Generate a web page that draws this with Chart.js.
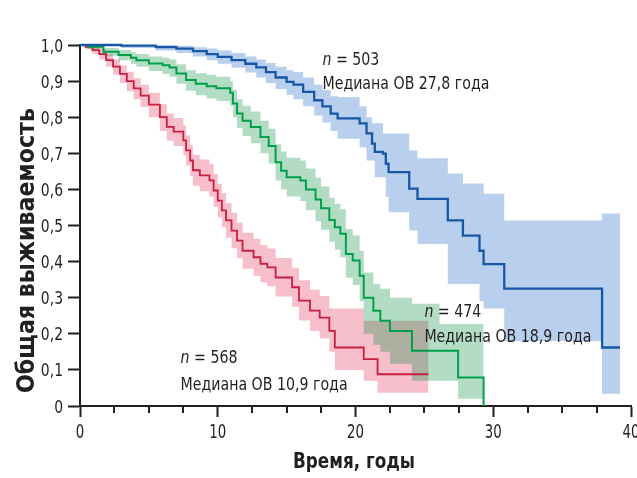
<!DOCTYPE html>
<html><head><meta charset="utf-8">
<script src="https://cdn.jsdelivr.net/npm/chart.js@4.4.1/dist/chart.umd.min.js"></script>
<style>html,body{margin:0;padding:0;background:#fff;}#wrap{width:637px;height:478px;}</style>
</head><body><div id="wrap"><canvas id="c" width="637" height="478"></canvas></div>
<script>
// ---- data ----
const blueTime = [0,3,5.5,7,8.2,9.2,10,11,12,12.8,13.5,14.2,15,15.5,16.2,17,17.6,18.2,18.7,20.3,20.8,21.2,21.4,22,22.2,22.4,23.9,24.5,26.7,27.8,29,29.3,30.8,37.9,39.2];
const blueSurv = [1,0.998,0.994,0.99,0.983,0.975,0.967,0.958,0.948,0.938,0.925,0.91,0.898,0.89,0.87,0.847,0.83,0.81,0.797,0.783,0.755,0.727,0.704,0.699,0.671,0.648,0.602,0.574,0.514,0.472,0.43,0.393,0.325,0.162,0.162];
const blueLow  = [1,0.992,0.985,0.978,0.968,0.958,0.948,0.937,0.924,0.91,0.895,0.878,0.862,0.85,0.83,0.805,0.785,0.762,0.74,0.717,0.68,0.68,0.634,0.634,0.579,0.537,0.486,0.449,0.338,0.338,0.29,0.27,0.18,0.034,0.034];
const blueHigh = [1,1,1,0.998,0.994,0.99,0.985,0.978,0.968,0.96,0.95,0.94,0.93,0.925,0.91,0.89,0.875,0.858,0.856,0.83,0.8,0.783,0.783,0.755,0.755,0.755,0.708,0.686,0.644,0.616,0.616,0.588,0.514,0.533,0.533];

const greenTime = [0,0.6,1.7,2.8,3.7,4.1,5,6,6.5,7,7.7,8.4,9.2,9.9,10.9,11.1,11.4,11.8,12.4,13.1,13.7,14.2,14.6,15,16,16.4,17.1,17.5,18.1,18.5,18.9,19.3,19.8,20.3,20.6,21.3,21.8,22.5,24.1,26.1,27.45,29.3];
const greenSurv = [1,0.995,0.981,0.972,0.965,0.958,0.949,0.944,0.938,0.921,0.903,0.893,0.886,0.88,0.868,0.838,0.81,0.79,0.773,0.745,0.72,0.675,0.652,0.634,0.625,0.6,0.572,0.548,0.515,0.495,0.477,0.421,0.403,0.361,0.3,0.264,0.236,0.208,0.153,0.153,0.079,0];
const greenLow  = [1,0.988,0.97,0.958,0.948,0.94,0.928,0.92,0.912,0.893,0.873,0.861,0.852,0.845,0.832,0.8,0.77,0.748,0.728,0.7,0.672,0.625,0.6,0.58,0.568,0.542,0.512,0.488,0.455,0.433,0.412,0.355,0.335,0.29,0.2,0.17,0.15,0.117,0.07,0.07,0.02,0.02];
const greenHigh = [1,1,0.992,0.986,0.98,0.975,0.968,0.965,0.96,0.947,0.93,0.922,0.917,0.912,0.9,0.876,0.85,0.832,0.816,0.79,0.768,0.725,0.705,0.688,0.68,0.658,0.632,0.608,0.577,0.56,0.545,0.49,0.472,0.43,0.37,0.338,0.325,0.3,0.283,0.227,0.227,0.227];

const redTime = [0,0.4,0.9,1.4,1.9,2.4,2.9,3.4,3.9,4.4,5,5.8,6.3,6.8,7.5,7.7,8,8.2,8.7,9.4,9.7,10,10.3,10.6,11,11.4,11.8,12.6,13.1,13.6,14.2,15.4,15.9,16.7,17.4,18.1,18.5,20.6,21.6,25.3];
const redSurv = [1,0.995,0.986,0.975,0.958,0.94,0.92,0.9,0.88,0.86,0.835,0.8,0.773,0.76,0.736,0.708,0.68,0.653,0.639,0.625,0.597,0.569,0.542,0.514,0.486,0.458,0.43,0.412,0.394,0.384,0.356,0.329,0.292,0.264,0.245,0.208,0.162,0.13,0.088,0.088];
const redLow  = [1,0.988,0.975,0.96,0.94,0.918,0.895,0.872,0.85,0.828,0.8,0.762,0.735,0.72,0.695,0.666,0.637,0.61,0.595,0.58,0.551,0.522,0.495,0.466,0.437,0.409,0.38,0.361,0.343,0.332,0.303,0.275,0.237,0.208,0.188,0.15,0.1,0.07,0.037,0.037];
const redHigh = [1,1,0.996,0.988,0.975,0.96,0.943,0.926,0.908,0.89,0.868,0.836,0.81,0.798,0.776,0.75,0.722,0.696,0.683,0.67,0.643,0.615,0.59,0.562,0.535,0.508,0.48,0.463,0.446,0.436,0.41,0.383,0.348,0.322,0.305,0.27,0.27,0.236,0.236,0.236];

const xTickValues = [0,10,20,30,40];
const xTickLabels = ['0','10','20','30','40'];
const yTickValues = [0,0.1,0.2,0.3,0.4,0.5,0.6,0.7,0.8,0.9,1];
const yTickLabels = ['0','0,1','0,2','0,3','0,4','0,5','0,6','0,7','0,8','0,9','1,0'];

const annotations = [
  {n:'503', text:'Медиана ОВ 27,8 года', x:17.6, y1:0.945, y2:0.878},
  {n:'474', text:'Медиана ОВ 18,9 года', x:25.0, y1:0.247, y2:0.177},
  {n:'568', text:'Медиана ОВ 10,9 года', x:7.3,  y1:0.119, y2:0.044}
];

// ---- styling ----
const FONT = "'DejaVu Sans Condensed','DejaVu Sans',sans-serif";
const AX = '#231f20';
const pts = (t, v) => t.map((x, i) => ({x, y: v[i]}));

function band(t, lo, hi, color, order) {
  return [
    {data: pts(t, hi), stepped: 'before', borderWidth: 0, pointRadius: 0, backgroundColor: color, fill: '+1', order, clip: false},
    {data: pts(t, lo), stepped: 'before', borderWidth: 0, pointRadius: 0, fill: false, order, clip: false}
  ];
}
function line(t, s, color, w) {
  return {data: pts(t, s), stepped: 'before', borderColor: color, borderWidth: w, pointRadius: 0, fill: false, order: 0, clip: false, borderCapStyle: 'butt'};
}

const datasets = [
  line(blueTime, blueSurv, '#1757a6', 2.3),
  line(greenTime, greenSurv, '#00a04a', 2),
  line(redTime, redSurv, '#c81f40', 1.8),
  ...band(blueTime, blueLow, blueHigh, 'rgb(184,208,237)', 2),
  ...band(greenTime, greenLow, greenHigh, 'rgba(0,140,60,0.30)', 2),
  ...band(redTime, redLow, redHigh, 'rgba(236,100,130,0.42)', 3)
];

// draw text horizontally condensed (reference uses a condensed face)
function txt(ctx, s, x, y, font, sx, align) {
  ctx.save(); ctx.font = font; ctx.textAlign = align || 'left'; ctx.textBaseline = 'alphabetic';
  ctx.translate(x, y); ctx.scale(sx, 1); ctx.fillText(s, 0, 0); ctx.restore();
}
function fitScale(ctx, s, font, w) { ctx.save(); ctx.font = font; const m = ctx.measureText(s).width; ctx.restore(); return w / m; }

const extras = {
  id: 'extras',
  afterDraw(chart) {
    const {ctx, scales: {x, y}, chartArea} = chart;
    ctx.save();
    // minor x ticks
    ctx.strokeStyle = AX; ctx.lineWidth = 2;
    for (let v = 2.5; v < 40; v += 2.5) {
      if (v % 10 === 0) continue;
      const px = Math.round(x.getPixelForValue(v));
      ctx.beginPath(); ctx.moveTo(px, chartArea.bottom); ctx.lineTo(px, chartArea.bottom + 7); ctx.stroke();
    }
    ctx.fillStyle = AX;
    // tick labels
    const xf = "19.5px " + FONT, yf = "18px " + FONT;
    xTickValues.forEach((v, i) => txt(ctx, xTickLabels[i], x.getPixelForValue(v), chartArea.bottom + 31.5, xf, 0.76, 'center'));
    yTickValues.forEach((v, i) => txt(ctx, yTickLabels[i], 63, y.getPixelForValue(v) + 6.5, yf, 0.86, 'right'));
    // axis titles
    const tf = "bold 21.5px " + FONT;
    txt(ctx, 'Время, годы', 354, 468, tf, fitScale(ctx, 'Время, годы', tf, 122), 'center');
    const yt = "bold 24px " + FONT;
    ctx.save(); ctx.translate(34, 250.5); ctx.rotate(-Math.PI / 2);
    txt(ctx, 'Общая выживаемость', 0, 0, yt, fitScale(ctx, 'Общая выживаемость', yt, 285), 'center');
    ctx.restore();
    // annotations
    const af = "17px " + FONT, ai = "italic 17px " + FONT;
    const sc = fitScale(ctx, annotations[1].text, af, 167);
    annotations.forEach(a => {
      const px = x.getPixelForValue(a.x);
      const py1 = y.getPixelForValue(a.y1), py2 = y.getPixelForValue(a.y2);
      txt(ctx, 'n', px, py1, ai, sc);
      ctx.save(); ctx.font = ai; const w = ctx.measureText('n').width * sc; ctx.restore();
      txt(ctx, ' = ' + a.n, px + w, py1, af, sc);
      txt(ctx, a.text, px, py2, af, sc);
    });
    ctx.restore();
  }
};

new Chart(document.getElementById('c'), {
  type: 'line',
  data: {datasets},
  options: {
    responsive: false, animation: false, devicePixelRatio: 1,
    layout: {padding: {left: 0, right: 6, top: 45, bottom: 0}},
    plugins: {legend: {display: false}, tooltip: {enabled: false}},
    scales: {
      x: {
        type: 'linear', min: 0, max: 40,
        border: {display: true, color: AX, width: 2},
        grid: {drawOnChartArea: false, drawTicks: true, tickLength: 11, tickWidth: 2, tickColor: AX},
        afterBuildTicks: s => { s.ticks = xTickValues.map(v => ({value: v})); },
        ticks: {display: false},
        afterFit: s => { s.height = 72; s.paddingRight = 6; s.paddingLeft = 0; }
      },
      y: {
        type: 'linear', min: 0, max: 1,
        border: {display: true, color: AX, width: 2},
        grid: {drawOnChartArea: false, drawTicks: true, tickLength: 12, tickWidth: 2, tickColor: AX},
        afterBuildTicks: s => { s.ticks = yTickValues.map(v => ({value: v})); },
        ticks: {display: false},
        afterFit: s => { s.width = 80; s.paddingTop = 0; s.paddingBottom = 0; }
      }
    }
  },
  plugins: [extras]
});
</script>
</body></html>
